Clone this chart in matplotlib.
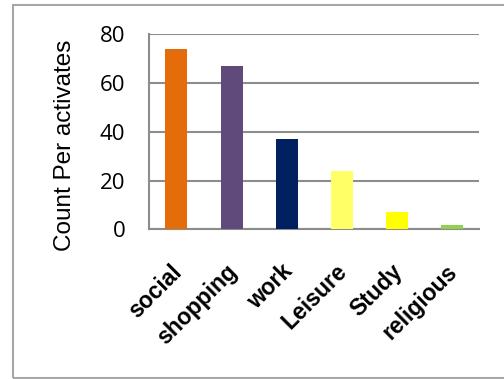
import matplotlib
matplotlib.use("Agg")
import matplotlib.pyplot as plt
from matplotlib.patches import Rectangle
from matplotlib.transforms import ScaledTranslation

# data
activities = ["social", "shopping", "work", "Leisure", "Study", "religious"]
counts = [74, 67, 37, 24, 7, 2]
bar_colors = ["#E46C0A", "#604A7B", "#002060", "#FFFF66", "#FFFF00", "#92D050"]
yticks = [0, 20, 40, 60, 80]

fig = plt.figure(figsize=(5.04, 3.79), dpi=100)
ax = fig.add_axes([0.2956, 0.3945, 0.655, 0.5158])

# outer chart frame
fig.patches.append(
    Rectangle((13 / 504, 0.003), 1.2, 0.984, transform=fig.transFigure,
              fill=False, edgecolor="#A6A6A6", linewidth=1.5)
)

ax.bar(range(len(activities)), counts, width=0.4, color=bar_colors, zorder=3)
ax.set_xlim(-0.5, len(activities) - 0.5)
ax.set_ylim(0, 80)
ax.set_yticks(yticks)
ax.yaxis.grid(True, color="#8C8C8C", linewidth=1.5, zorder=0)

for side in ["top", "right"]:
    ax.spines[side].set_visible(False)
for side in ["left", "bottom"]:
    ax.spines[side].set_color("#8C8C8C")
    ax.spines[side].set_linewidth(1.5)

ax.tick_params(axis="both", length=0)
ax.tick_params(axis="y", pad=17, labelsize=16)
ax.set_yticklabels([str(v) for v in yticks], family=["Open Sans", "DejaVu Sans"])

ax.set_xticks(range(len(activities)))
ax.set_xticklabels(activities, rotation=45, ha="right", rotation_mode="anchor",
                   fontsize=16.5, fontweight="bold", family="Liberation Sans")
ax.tick_params(axis="x", pad=22)
shift = ScaledTranslation(-6 / 100, 0, fig.dpi_scale_trans)
for lbl in ax.get_xticklabels():
    lbl.set_transform(lbl.get_transform() + shift)

ax.set_ylabel("Count Per activates", fontsize=17.5, family="Liberation Sans")
ax.yaxis.set_label_coords(-0.22, 0.432)

fig.savefig("out.png", dpi=100)
